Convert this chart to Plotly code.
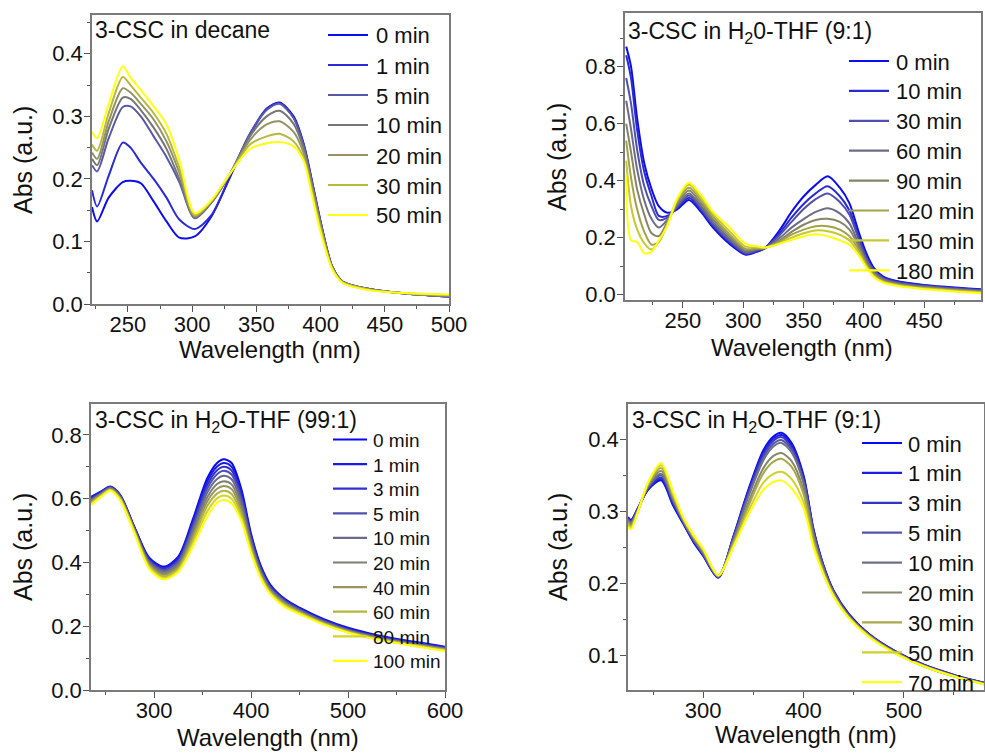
import plotly.graph_objects as go

# ---- panel 1: 3-CSC in decane ----
wl_dec = [222, 226, 235, 246, 252, 260, 270, 280, 290, 302, 315, 330, 345, 358, 368,
          379, 387, 393, 400, 409, 417, 438, 470, 500]
dec_names = ['0 min', '1 min', '5 min', '10 min', '20 min', '30 min', '50 min']
dec_0 = [0.155, 0.132, 0.170, 0.195, 0.197, 0.193, 0.164, 0.132, 0.106, 0.108, 0.140, 0.205, 0.270, 0.312, 0.322, 0.300, 0.255, 0.200, 0.132, 0.060, 0.036, 0.024, 0.016, 0.012]
dec_1 = [0.182, 0.156, 0.205, 0.258, 0.250, 0.226, 0.200, 0.170, 0.135, 0.120, 0.142, 0.207, 0.272, 0.312, 0.321, 0.298, 0.253, 0.198, 0.131, 0.060, 0.036, 0.024, 0.016, 0.012]
dec_5 = [0.222, 0.212, 0.265, 0.315, 0.316, 0.300, 0.268, 0.235, 0.195, 0.137, 0.162, 0.210, 0.272, 0.310, 0.320, 0.297, 0.252, 0.197, 0.130, 0.060, 0.036, 0.024, 0.016, 0.012]
dec_10 = [0.232, 0.222, 0.280, 0.330, 0.328, 0.310, 0.282, 0.248, 0.200, 0.138, 0.163, 0.210, 0.268, 0.300, 0.309, 0.288, 0.247, 0.194, 0.128, 0.059, 0.036, 0.024, 0.016, 0.013]
dec_20 = [0.242, 0.232, 0.292, 0.345, 0.338, 0.320, 0.295, 0.260, 0.210, 0.140, 0.164, 0.210, 0.262, 0.287, 0.292, 0.275, 0.240, 0.189, 0.125, 0.058, 0.035, 0.023, 0.016, 0.013]
dec_30 = [0.255, 0.245, 0.305, 0.363, 0.350, 0.330, 0.305, 0.272, 0.218, 0.142, 0.165, 0.210, 0.255, 0.268, 0.272, 0.260, 0.232, 0.183, 0.120, 0.057, 0.035, 0.023, 0.017, 0.014]
dec_50 = [0.275, 0.265, 0.320, 0.380, 0.362, 0.342, 0.316, 0.287, 0.230, 0.145, 0.166, 0.210, 0.248, 0.257, 0.259, 0.252, 0.228, 0.177, 0.115, 0.056, 0.034, 0.022, 0.017, 0.015]
dec_colors = ['#0c0cf0', '#2a2ad6', '#5858a8', '#767676', '#939366', '#b8b83c', '#ffff10']

# ---- panel 2: 3-CSC in H2O-THF (9:1), long times ----
wl_a = [203, 207, 212, 218, 224, 230, 237, 245, 255, 265, 275, 288, 302, 311, 318, 330,
        340, 350, 360, 370, 380, 388, 396, 402, 408, 416, 430, 450, 475, 497]
a_names = ['0 min', '10 min', '30 min', '60 min', '90 min', '120 min', '150 min', '180 min']
a_0 = [0.87, 0.80, 0.62, 0.46, 0.37, 0.31, 0.287, 0.298, 0.332, 0.29, 0.235, 0.18, 0.14, 0.15, 0.163, 0.225, 0.29, 0.344, 0.385, 0.415, 0.375, 0.32, 0.215, 0.145, 0.095, 0.063, 0.045, 0.034, 0.025, 0.019]
a_10 = [0.84, 0.76, 0.58, 0.43, 0.345, 0.276, 0.276, 0.302, 0.34, 0.296, 0.24, 0.185, 0.142, 0.152, 0.163, 0.215, 0.27, 0.318, 0.355, 0.38, 0.345, 0.295, 0.2, 0.135, 0.09, 0.06, 0.043, 0.032, 0.023, 0.017]
a_30 = [0.76, 0.67, 0.51, 0.38, 0.31, 0.262, 0.27, 0.307, 0.348, 0.302, 0.246, 0.19, 0.145, 0.155, 0.163, 0.208, 0.255, 0.30, 0.335, 0.355, 0.325, 0.28, 0.19, 0.128, 0.085, 0.057, 0.04, 0.03, 0.021, 0.015]
a_60 = [0.68, 0.58, 0.44, 0.33, 0.265, 0.235, 0.262, 0.313, 0.355, 0.31, 0.254, 0.198, 0.15, 0.158, 0.163, 0.198, 0.235, 0.265, 0.29, 0.303, 0.285, 0.25, 0.175, 0.12, 0.08, 0.054, 0.038, 0.028, 0.019, 0.013]
a_90 = [0.60, 0.50, 0.37, 0.28, 0.215, 0.205, 0.255, 0.318, 0.365, 0.32, 0.264, 0.206, 0.155, 0.16, 0.163, 0.19, 0.22, 0.245, 0.262, 0.266, 0.255, 0.228, 0.165, 0.112, 0.075, 0.05, 0.035, 0.025, 0.017, 0.011]
a_120 = [0.54, 0.41, 0.30, 0.22, 0.175, 0.185, 0.25, 0.325, 0.375, 0.33, 0.274, 0.214, 0.16, 0.163, 0.164, 0.185, 0.21, 0.228, 0.24, 0.24, 0.228, 0.205, 0.155, 0.105, 0.07, 0.047, 0.033, 0.023, 0.015, 0.009]
a_150 = [0.47, 0.31, 0.23, 0.18, 0.158, 0.185, 0.245, 0.33, 0.385, 0.34, 0.283, 0.225, 0.168, 0.166, 0.165, 0.18, 0.2, 0.215, 0.225, 0.222, 0.21, 0.19, 0.145, 0.1, 0.066, 0.044, 0.031, 0.021, 0.013, 0.007]
a_180 = [0.42, 0.19, 0.185, 0.145, 0.15, 0.19, 0.24, 0.335, 0.392, 0.35, 0.29, 0.238, 0.178, 0.17, 0.165, 0.178, 0.192, 0.205, 0.212, 0.205, 0.19, 0.175, 0.135, 0.095, 0.063, 0.042, 0.029, 0.019, 0.011, 0.005]
a_colors = ['#0c0cf0', '#2a2ad2', '#5050b0', '#6c6c88', '#858566', '#a2a24a', '#c8c830', '#ffff10']

# ---- panel 3: 3-CSC in H2O-THF (99:1) ----
wl_b = [235, 245, 255, 265, 280, 295, 310, 325, 340, 355, 365, 372, 380, 390, 400, 410,
        420, 435, 450, 475, 500, 530, 560, 600]
b_names = ['0 min', '1 min', '3 min', '5 min', '10 min', '20 min', '40 min', '60 min', '80 min', '100 min']
b_0 = [0.606, 0.622, 0.638, 0.612, 0.510, 0.415, 0.387, 0.418, 0.535, 0.665, 0.712, 0.724, 0.712, 0.630, 0.490, 0.390, 0.330, 0.285, 0.258, 0.222, 0.195, 0.172, 0.155, 0.136]
b_1 = [0.604, 0.621, 0.637, 0.611, 0.508, 0.412, 0.384, 0.414, 0.528, 0.655, 0.701, 0.712, 0.700, 0.620, 0.484, 0.386, 0.327, 0.283, 0.256, 0.220, 0.193, 0.170, 0.153, 0.134]
b_3 = [0.601, 0.619, 0.636, 0.610, 0.506, 0.409, 0.380, 0.409, 0.520, 0.644, 0.689, 0.700, 0.688, 0.610, 0.478, 0.382, 0.324, 0.281, 0.254, 0.218, 0.191, 0.168, 0.152, 0.133]
b_5 = [0.598, 0.617, 0.635, 0.608, 0.504, 0.405, 0.376, 0.404, 0.512, 0.633, 0.677, 0.688, 0.676, 0.600, 0.471, 0.377, 0.320, 0.278, 0.252, 0.216, 0.189, 0.167, 0.150, 0.131]
b_10 = [0.595, 0.615, 0.633, 0.606, 0.502, 0.401, 0.371, 0.398, 0.502, 0.620, 0.662, 0.672, 0.661, 0.588, 0.464, 0.372, 0.317, 0.276, 0.250, 0.214, 0.187, 0.165, 0.148, 0.130]
b_20 = [0.592, 0.613, 0.632, 0.604, 0.500, 0.397, 0.366, 0.392, 0.492, 0.605, 0.646, 0.655, 0.645, 0.575, 0.456, 0.367, 0.313, 0.273, 0.248, 0.212, 0.186, 0.164, 0.147, 0.128]
b_40 = [0.589, 0.611, 0.630, 0.602, 0.498, 0.393, 0.361, 0.386, 0.482, 0.592, 0.631, 0.640, 0.630, 0.563, 0.449, 0.362, 0.310, 0.270, 0.245, 0.210, 0.184, 0.162, 0.146, 0.127]
b_60 = [0.586, 0.609, 0.628, 0.600, 0.496, 0.389, 0.356, 0.380, 0.471, 0.578, 0.616, 0.625, 0.615, 0.551, 0.442, 0.358, 0.306, 0.267, 0.243, 0.208, 0.183, 0.161, 0.145, 0.126]
b_80 = [0.583, 0.607, 0.627, 0.598, 0.493, 0.385, 0.351, 0.375, 0.460, 0.561, 0.601, 0.610, 0.600, 0.540, 0.436, 0.354, 0.303, 0.264, 0.241, 0.207, 0.181, 0.159, 0.143, 0.124]
b_100 = [0.580, 0.605, 0.625, 0.595, 0.490, 0.380, 0.347, 0.370, 0.450, 0.545, 0.588, 0.596, 0.585, 0.530, 0.430, 0.350, 0.300, 0.260, 0.238, 0.205, 0.180, 0.158, 0.142, 0.122]
b_colors = ['#0808f4', '#1a1ae6', '#3030d0', '#5050b0', '#6a6a90', '#7e7e74', '#96965c', '#b4b442', '#d4d42a', '#ffff10']

# ---- panel 4: 3-CSC in H2O-THF (9:1), short times ----
wl_c = [225, 228, 235, 245, 258, 270, 280, 290, 300, 315, 330, 345, 360, 370, 378, 388,
        400, 410, 420, 430, 445, 465, 490, 520, 550, 580]
c_names = ['0 min', '1 min', '3 min', '5 min', '10 min', '20 min', '30 min', '50 min', '70 min']
c_0 = [0.292, 0.288, 0.305, 0.330, 0.343, 0.308, 0.283, 0.258, 0.238, 0.208, 0.265, 0.330, 0.385, 0.404, 0.409, 0.395, 0.350, 0.275, 0.225, 0.190, 0.158, 0.130, 0.107, 0.087, 0.073, 0.062]
c_1 = [0.291, 0.287, 0.304, 0.331, 0.345, 0.310, 0.284, 0.259, 0.239, 0.208, 0.264, 0.328, 0.382, 0.401, 0.406, 0.392, 0.348, 0.274, 0.224, 0.189, 0.157, 0.130, 0.107, 0.087, 0.073, 0.062]
c_3 = [0.290, 0.286, 0.304, 0.332, 0.347, 0.312, 0.285, 0.260, 0.240, 0.209, 0.263, 0.326, 0.379, 0.398, 0.403, 0.389, 0.345, 0.272, 0.223, 0.188, 0.156, 0.129, 0.106, 0.086, 0.072, 0.062]
c_5 = [0.289, 0.285, 0.303, 0.333, 0.350, 0.314, 0.286, 0.261, 0.241, 0.209, 0.262, 0.323, 0.375, 0.394, 0.399, 0.386, 0.342, 0.270, 0.222, 0.188, 0.156, 0.129, 0.106, 0.086, 0.072, 0.061]
c_10 = [0.288, 0.284, 0.302, 0.334, 0.352, 0.316, 0.287, 0.263, 0.242, 0.210, 0.260, 0.320, 0.371, 0.390, 0.395, 0.382, 0.339, 0.268, 0.220, 0.187, 0.155, 0.128, 0.105, 0.086, 0.072, 0.061]
c_20 = [0.286, 0.282, 0.302, 0.336, 0.356, 0.318, 0.288, 0.264, 0.244, 0.210, 0.257, 0.312, 0.360, 0.377, 0.381, 0.370, 0.330, 0.263, 0.217, 0.185, 0.154, 0.128, 0.105, 0.085, 0.071, 0.061]
c_30 = [0.284, 0.280, 0.301, 0.337, 0.360, 0.321, 0.289, 0.265, 0.245, 0.211, 0.255, 0.307, 0.353, 0.369, 0.373, 0.362, 0.324, 0.259, 0.215, 0.184, 0.153, 0.127, 0.105, 0.085, 0.071, 0.060]
c_50 = [0.281, 0.277, 0.300, 0.339, 0.364, 0.324, 0.291, 0.267, 0.247, 0.211, 0.252, 0.300, 0.340, 0.352, 0.355, 0.345, 0.313, 0.254, 0.213, 0.183, 0.153, 0.127, 0.104, 0.085, 0.071, 0.060]
c_70 = [0.278, 0.275, 0.300, 0.340, 0.367, 0.327, 0.292, 0.268, 0.248, 0.211, 0.250, 0.295, 0.330, 0.341, 0.343, 0.332, 0.305, 0.250, 0.212, 0.182, 0.152, 0.126, 0.104, 0.085, 0.071, 0.060]
c_colors = ['#0808f4', '#1c1ce4', '#3434c8', '#5454a8', '#707088', '#88886a', '#a8a84a', '#d0d02c', '#ffff10']

FONT = 'Liberation Sans, Arial, sans-serif'
W, H = 985, 753

panels = [
    (wl_dec, [dec_0, dec_1, dec_5, dec_10, dec_20, dec_30, dec_50], dec_names, dec_colors),
    (wl_a, [a_0, a_10, a_30, a_60, a_90, a_120, a_150, a_180], a_names, a_colors),
    (wl_b, [b_0, b_1, b_3, b_5, b_10, b_20, b_40, b_60, b_80, b_100], b_names, b_colors),
    (wl_c, [c_0, c_1, c_3, c_5, c_10, c_20, c_30, c_50, c_70], c_names, c_colors),
]

fig = go.Figure()
for i, (wl, series, names, colors) in enumerate(panels):
    sfx = '' if i == 0 else str(i + 1)
    for ys, name, col in zip(series, names, colors):
        fig.add_trace(go.Scatter(x=wl, y=ys, name=name, mode='lines', showlegend=False,
                                 line=dict(color=col, width=2, shape='spline', smoothing=0.8),
                                 xaxis='x' + sfx, yaxis='y' + sfx))


def px_dom_x(a, b):
    return [a / W, b / W]


def px_dom_y(top, bottom):
    return [1 - bottom / H, 1 - top / H]


def axis(dom, rng, dtick, mdtick, anchor, fmt=None, standoff=0):
    d = dict(domain=dom, range=rng, dtick=dtick, tick0=0, anchor=anchor,
             showline=True, mirror=True, linecolor='#7a7a7a', linewidth=1.5,
             ticks='outside', ticklen=6, tickcolor='#555555', showgrid=False, zeroline=False,
             minor=dict(dtick=mdtick, ticks='outside', ticklen=3, tickcolor='#555555'),
             ticklabelstandoff=standoff,
             tickfont=dict(family=FONT, size=22, color='#111111'))
    if fmt:
        d['tickformat'] = fmt
    return d


fig.update_layout(
    width=W, height=H, margin=dict(l=0, r=0, t=0, b=0, autoexpand=False),
    paper_bgcolor='white', plot_bgcolor='white',
    font=dict(family=FONT, color='#111111'),
    xaxis=axis(px_dom_x(92, 449), [222, 500], 50, 25, 'y', standoff=-6),
    yaxis=axis(px_dom_y(15, 304), [0, 0.462], 0.1, 0.05, 'x', '.1f', -3),
    xaxis2=axis(px_dom_x(625, 981), [202, 497], 50, 25, 'y2', standoff=-6),
    yaxis2=axis(px_dom_y(13, 300), [-0.019, 0.988], 0.2, 0.1, 'x2', '.1f', -3),
    xaxis3=axis(px_dom_x(91, 445), [235, 600], 100, 50, 'y3', standoff=-6),
    yaxis3=axis(px_dom_y(404, 690), [0, 0.897], 0.2, 0.1, 'x3', '.1f', -3),
    xaxis4=axis(px_dom_x(628, 984), [225, 580], 100, 50, 'y4', standoff=-6),
    yaxis4=axis(px_dom_y(404, 690), [0.052, 0.449], 0.1, 0.05, 'x4', '.1f', -3),
)

# legends drawn in place (line sample + label), like the Origin graphs
legends = [
    (dec_names, dec_colors, 328, 368, 374, 35, 30.0, 22),
    (a_names, a_colors, 849, 889, 894, 61, 29.9, 22),
    (b_names, b_colors, 333, 367, 371, 439.5, 24.6, 19),
    (c_names, c_colors, 862, 902, 906, 443, 29.9, 22),
]
for names, colors, x0, x1, xt, y0, dy, fs in legends:
    for k, (name, col) in enumerate(zip(names, colors)):
        yy = 1 - (y0 + k * dy) / H
        fig.add_shape(type='line', xref='paper', yref='paper', x0=x0 / W, x1=x1 / W,
                      y0=yy, y1=yy, line=dict(color=col, width=2.2))
        fig.add_annotation(text=name, x=xt / W, y=yy - 1 / H, xref='paper', yref='paper',
                           xanchor='left', yanchor='middle', showarrow=False,
                           font=dict(family=FONT, size=fs, color='#111111'))

labels = [
    ('3-CSC in decane', 93, 30),
    ('3-CSC in H<sub>2</sub>0-THF (9:1)', 626, 33),
    ('3-CSC in H<sub>2</sub>O-THF (99:1)', 93, 422),
    ('3-CSC in H<sub>2</sub>O-THF (9:1)', 630, 422),
]
for txt, x, y in labels:
    fig.add_annotation(text=txt, x=x / W, y=1 - y / H, xref='paper', yref='paper',
                       xanchor='left', yanchor='middle', showarrow=False,
                       font=dict(family=FONT, size=23, color='#111111'))

xtitles = [(270, 349), (802, 347), (268, 737), (806, 734)]
for x, y in xtitles:
    fig.add_annotation(text='Wavelength (nm)', x=x / W, y=1 - y / H, xref='paper', yref='paper',
                       xanchor='center', yanchor='middle', showarrow=False,
                       font=dict(family=FONT, size=24, color='#111111'))

ytitles = [(23, 160), (557, 157), (23, 547), (558, 547)]
for x, y in ytitles:
    fig.add_annotation(text='Abs (a.u.)', x=x / W, y=1 - y / H, xref='paper', yref='paper',
                       xanchor='center', yanchor='middle', showarrow=False, textangle=-90,
                       font=dict(family=FONT, size=25, color='#111111'))

# the page's default 8px body margin would shift the figure; remove it
fig.write_html("out.html", config={'displayModeBar': False},
               post_script="document.body.style.margin='0';document.body.style.overflow='hidden';")
